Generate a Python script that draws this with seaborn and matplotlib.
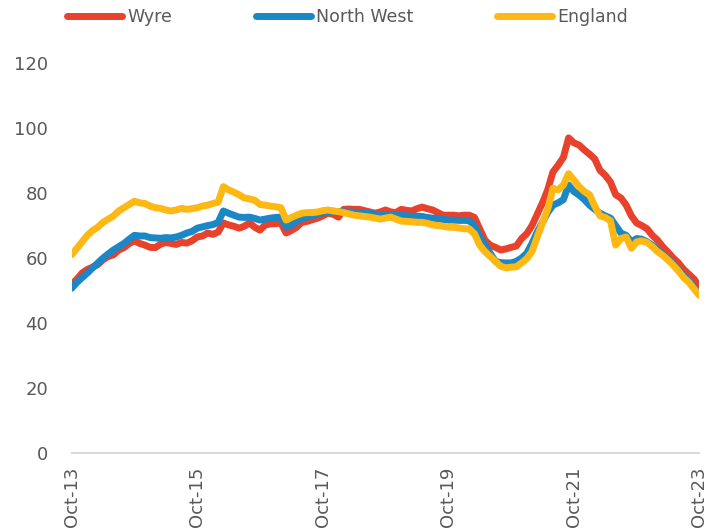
import seaborn as sns
import matplotlib.pyplot as plt
import numpy as np
import pandas as pd

# Monthly series, Oct-13 .. Oct-23 (121 months)
months = pd.date_range("2013-10-01", periods=121, freq="MS")
tick_labels = ["Oct-13", "Oct-15", "Oct-17", "Oct-19", "Oct-21", "Oct-23"]

wyre = [52, 53.5, 55.4, 56.5, 57.2, 58, 59.5, 60.5, 61, 62.5,
        63.2, 64.5, 65.3, 64.5, 64, 63.3, 63.2, 64.3, 64.8, 64.5,
        64.2, 64.8, 64.6, 65.3, 66.5, 66.8, 67.7, 67.3, 68, 70.8,
        70.2, 69.8, 69.2, 69.8, 70.8, 69.5, 68.6, 70.2, 70.5, 70.6,
        70.8, 67.7, 68.5, 69.5, 71, 71.3, 71.8, 72.3, 73, 73.8,
        73.5, 72.6, 75, 75.1, 75, 75, 74.6, 74.2, 73.8, 74.2,
        74.8, 74.2, 74, 75, 74.7, 74.5, 75.2, 75.7, 75.2, 74.8,
        74, 73.2, 73.2, 73.2, 73, 73.2, 73.2, 72.5, 69, 65.5,
        64, 63.3, 62.5, 62.8, 63.3, 63.7, 66, 67.5, 70, 73.5,
        77, 81, 86.5, 88.6, 91, 97, 95.5, 94.8, 93.3, 92,
        90.5, 87, 85.5, 83.4, 79.5, 78.5, 76.3, 73, 70.8, 70,
        69, 67, 65.5, 63.5, 61.8, 60, 58.5, 56.5, 55, 53.5, 51]

north_west = [50.7, 52.5, 54, 55.4, 57, 58.5, 60, 61.3, 62.5, 63.5,
              64.5, 65.8, 67, 66.8, 66.8, 66.3, 66.2, 66.1, 66.3, 66.2,
              66.5, 67, 67.7, 68.2, 69.2, 69.6, 70, 70.3, 71, 74.5,
              73.8, 73.2, 72.6, 72.5, 72.6, 72.2, 71.7, 72, 72.3, 72.5,
              72.6, 69.5, 70.2, 71.3, 72.3, 72.6, 73, 73.5, 74, 74.3,
              74.4, 74.3, 74.2, 74.2, 74.1, 74, 73.8, 73.8, 73.5, 73.2,
              73.2, 73.4, 73.2, 73.2, 73, 72.9, 72.9, 72.8, 72.5, 72.3,
              72.1, 71.9, 71.7, 71.7, 71.6, 71.6, 71.5, 70, 66.5, 64,
              61.5, 59, 58.6, 58.5, 58.5, 59, 60, 61.5, 64.5, 68,
              71, 74, 76.3, 77, 78, 82.5, 80.5, 79.4, 78, 76.3,
              75, 73.8, 73, 72.3, 70, 67.7, 67, 65, 66, 65.8,
              65, 64, 62.5, 61.2, 59.8, 58.2, 56.5, 54.5, 53, 51, 48.7]

england = [61, 63, 65, 67, 68.5, 69.5, 71, 72, 73, 74.5,
           75.5, 76.5, 77.5, 77, 76.8, 76, 75.5, 75.3, 74.8, 74.5,
           74.8, 75.3, 75, 75.2, 75.5, 76, 76.3, 76.8, 77.2, 82,
           81, 80.3, 79.5, 78.5, 78.2, 77.8, 76.5, 76.3, 76, 75.8,
           75.5, 71.7, 72.5, 73.2, 73.8, 74, 74, 74.2, 74.6, 74.8,
           74.5, 74.3, 74, 73.6, 73.2, 73, 72.8, 72.6, 72.3, 72,
           72.3, 72.6, 72, 71.4, 71.3, 71.2, 71, 71, 70.7, 70.2,
           70, 69.8, 69.5, 69.5, 69.3, 69, 69, 67.5, 64, 62,
           60.5, 59, 57.5, 57, 57.2, 57.3, 58.5, 59.8, 62, 66.5,
           70.8, 75, 81.5, 81, 82.5, 86, 84, 82, 80.5, 79.5,
           76, 73, 72.5, 71.5, 64, 66, 66.5, 63, 65, 65.3,
           64.8, 63.5, 62, 60.8, 59.4, 57.8, 56, 54, 52.5, 50.5, 48.5]

series_names = ["Wyre", "North West", "England"]
colors = ["#E8412C", "#1B87C5", "#FDB813"]

df = pd.DataFrame({"month": np.arange(len(months)),
                   "Wyre": wyre, "North West": north_west, "England": england})
long_df = df.melt(id_vars="month", var_name="area", value_name="value")

sns.set_style("white")
plt.rcParams["font.family"] = ["DejaVu Sans"]
text_grey = "#595959"

fig = plt.figure(figsize=(7.24, 5.31), dpi=100)
ax = fig.add_axes([0.099, 0.147, 0.867, 0.734])

sns.lineplot(data=long_df, x="month", y="value", hue="area",
             hue_order=series_names, palette=colors, linewidth=5,
             ax=ax, legend=False)

ax.set_xlim(0, 120)
ax.set_ylim(0, 120)
ax.set_yticks(range(0, 121, 20))
ax.set_xticks(range(0, 121, 24))
ax.set_xticklabels(tick_labels, rotation=90, va="top")
ax.tick_params(axis="y", length=0, labelsize=13, labelcolor=text_grey, pad=17)
ax.tick_params(axis="x", length=6, width=1, color="#D9D9D9",
               labelsize=13, labelcolor=text_grey, pad=4)
ax.set_xlabel("")
ax.set_ylabel("")
for side in ["top", "right", "left"]:
    ax.spines[side].set_visible(False)
ax.spines["bottom"].set_color("#D9D9D9")
ax.spines["bottom"].set_linewidth(1.5)
ax.spines["bottom"].set_zorder(0)

handles = [plt.Line2D([], [], color=c, linewidth=5, solid_capstyle="round")
           for c in colors]
fig.legend(handles, series_names, loc="center", bbox_to_anchor=(0.48, 0.968),
           ncol=3, frameon=False, fontsize=12.5, labelcolor=text_grey,
           handlelength=3.2, handletextpad=0.3, columnspacing=4.8)

fig.savefig("out.png", dpi=100)
